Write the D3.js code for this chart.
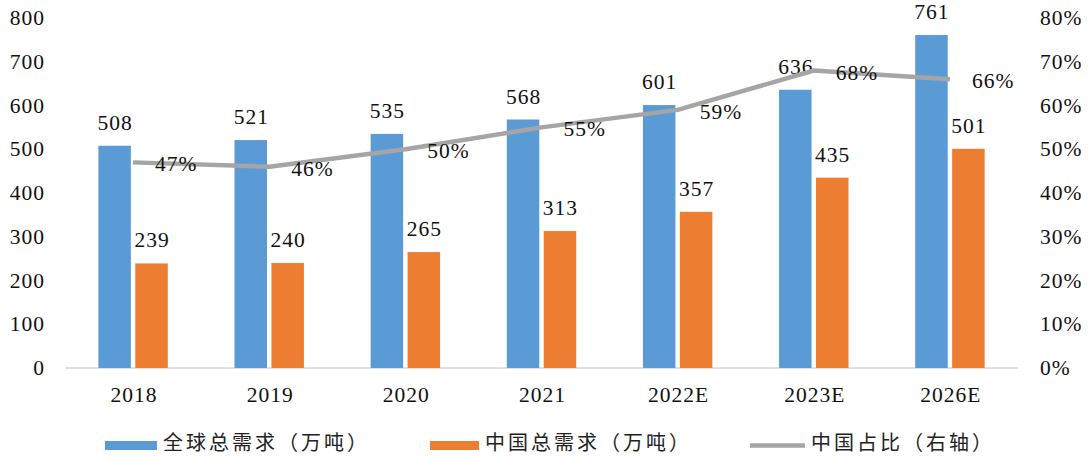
<!DOCTYPE html>
<html>
<head>
<meta charset="utf-8">
<script src="https://cdn.jsdelivr.net/npm/d3@7"></script>
<style>
  html, body { margin: 0; padding: 0; background: #fff; }
  svg { display: block; }
  .num { font-family: "Liberation Serif", "Times New Roman", Times, serif; font-size: 21.5px; letter-spacing: 1px; fill: #111; }
  .leg { font-family: "Noto Sans CJK SC", sans-serif; font-size: 20px; letter-spacing: 3px; fill: #222; }
</style>
</head>
<body>
<svg id="chart" width="1091" height="457"></svg>
<script>
// Categories and series
const years = ["2018", "2019", "2020", "2021", "2022E", "2023E", "2026E"];
const globalDemand = [508, 521, 535, 568, 601, 636, 761];   // 全球总需求（万吨）
const chinaDemand = [239, 240, 265, 313, 357, 435, 501];    // 中国总需求（万吨）
const chinaShare = [0.47, 0.46, 0.50, 0.55, 0.59, 0.68, 0.66]; // 中国占比（右轴）
const leftTicks = [0, 100, 200, 300, 400, 500, 600, 700, 800];
const rightTicks = [0, 0.1, 0.2, 0.3, 0.4, 0.5, 0.6, 0.7, 0.8];
const seriesNames = ["全球总需求（万吨）", "中国总需求（万吨）", "中国占比（右轴）"];

const colors = { global: "#5b9bd5", china: "#ed7d31", share: "#a5a5a5" };

const svg = d3.select("#chart");
const plot = { left: 65, right: 1018, top: 18, bottom: 368 };

const x0 = d3.scaleBand().domain(years).range([plot.left, plot.right])
  .paddingInner(0.49).paddingOuter(0.245);
const x1 = d3.scaleBand().domain(["global", "china"]).range([0, x0.bandwidth()]).paddingInner(0.12);
const yL = d3.scaleLinear().domain([0, 800]).range([plot.bottom, plot.top]);
const yR = d3.scaleLinear().domain([0, 0.8]).range([plot.bottom, plot.top]);
const cx = d => x0(d) + x0.bandwidth() / 2;

// Left axis labels
svg.append("g").selectAll("text").data(leftTicks).join("text")
  .attr("class", "num").attr("x", 45).attr("y", d => yL(d))
  .attr("text-anchor", "end").attr("dominant-baseline", "central")
  .text(d => d);

// Right axis labels
const pct = d3.format(".0%");
svg.append("g").selectAll("text").data(rightTicks).join("text")
  .attr("class", "num").attr("x", 1040).attr("y", d => yR(d))
  .attr("dominant-baseline", "central")
  .text(d => pct(d));

// Baseline
svg.append("line")
  .attr("x1", plot.left).attr("x2", plot.right)
  .attr("y1", yL(0)).attr("y2", yL(0))
  .attr("stroke", "#d9d9d9").attr("stroke-width", 1.5);

// Category labels
svg.append("g").selectAll("text").data(years).join("text")
  .attr("class", "num").attr("x", d => cx(d) + 1).attr("y", 395)
  .attr("text-anchor", "middle").attr("dominant-baseline", "central")
  .text(d => d);

// Bars
const groups = svg.append("g").selectAll("g").data(years).join("g")
  .attr("transform", d => `translate(${x0(d)},0)`);

groups.append("rect")
  .attr("x", x1("global")).attr("width", x1.bandwidth())
  .attr("y", (d, i) => yL(globalDemand[i]))
  .attr("height", (d, i) => yL(0) - yL(globalDemand[i]))
  .attr("fill", colors.global);

groups.append("rect")
  .attr("x", x1("china")).attr("width", x1.bandwidth())
  .attr("y", (d, i) => yL(chinaDemand[i]))
  .attr("height", (d, i) => yL(0) - yL(chinaDemand[i]))
  .attr("fill", colors.china);

// Bar value labels
groups.append("text").attr("class", "num")
  .attr("x", x1("global") + x1.bandwidth() / 2 + 0.5)
  .attr("y", (d, i) => yL(globalDemand[i]) - 23)
  .attr("text-anchor", "middle").attr("dominant-baseline", "central")
  .text((d, i) => globalDemand[i]);

groups.append("text").attr("class", "num")
  .attr("x", x1("china") + x1.bandwidth() / 2 + 0.5)
  .attr("y", (d, i) => yL(chinaDemand[i]) - 23)
  .attr("text-anchor", "middle").attr("dominant-baseline", "central")
  .text((d, i) => chinaDemand[i]);

// Share line on the right axis
const line = d3.line().x((d, i) => cx(years[i])).y(d => yR(d));
svg.append("path").datum(chinaShare)
  .attr("d", line).attr("fill", "none")
  .attr("stroke", colors.share).attr("stroke-width", 4.5)
  .attr("stroke-linejoin", "round");

svg.append("g").selectAll("text").data(chinaShare).join("text")
  .attr("class", "num")
  .attr("x", (d, i) => cx(years[i]) + 22)
  .attr("y", d => yR(d) + 2)
  .attr("dominant-baseline", "central")
  .text(d => pct(d));

// Legend
const leg = svg.append("g");
leg.append("rect").attr("x", 105).attr("y", 441).attr("width", 52).attr("height", 9).attr("fill", colors.global);
leg.append("text").attr("class", "leg").attr("x", 163).attr("y", 441).attr("dominant-baseline", "central").text(seriesNames[0]);
leg.append("rect").attr("x", 430).attr("y", 441).attr("width", 49).attr("height", 9).attr("fill", colors.china);
leg.append("text").attr("class", "leg").attr("x", 485).attr("y", 441).attr("dominant-baseline", "central").text(seriesNames[1]);
leg.append("line").attr("x1", 750).attr("x2", 805).attr("y1", 445.5).attr("y2", 445.5)
  .attr("stroke", colors.share).attr("stroke-width", 4.5);
leg.append("text").attr("class", "leg").attr("x", 811).attr("y", 441).attr("dominant-baseline", "central").text(seriesNames[2]);
</script>
</body>
</html>
